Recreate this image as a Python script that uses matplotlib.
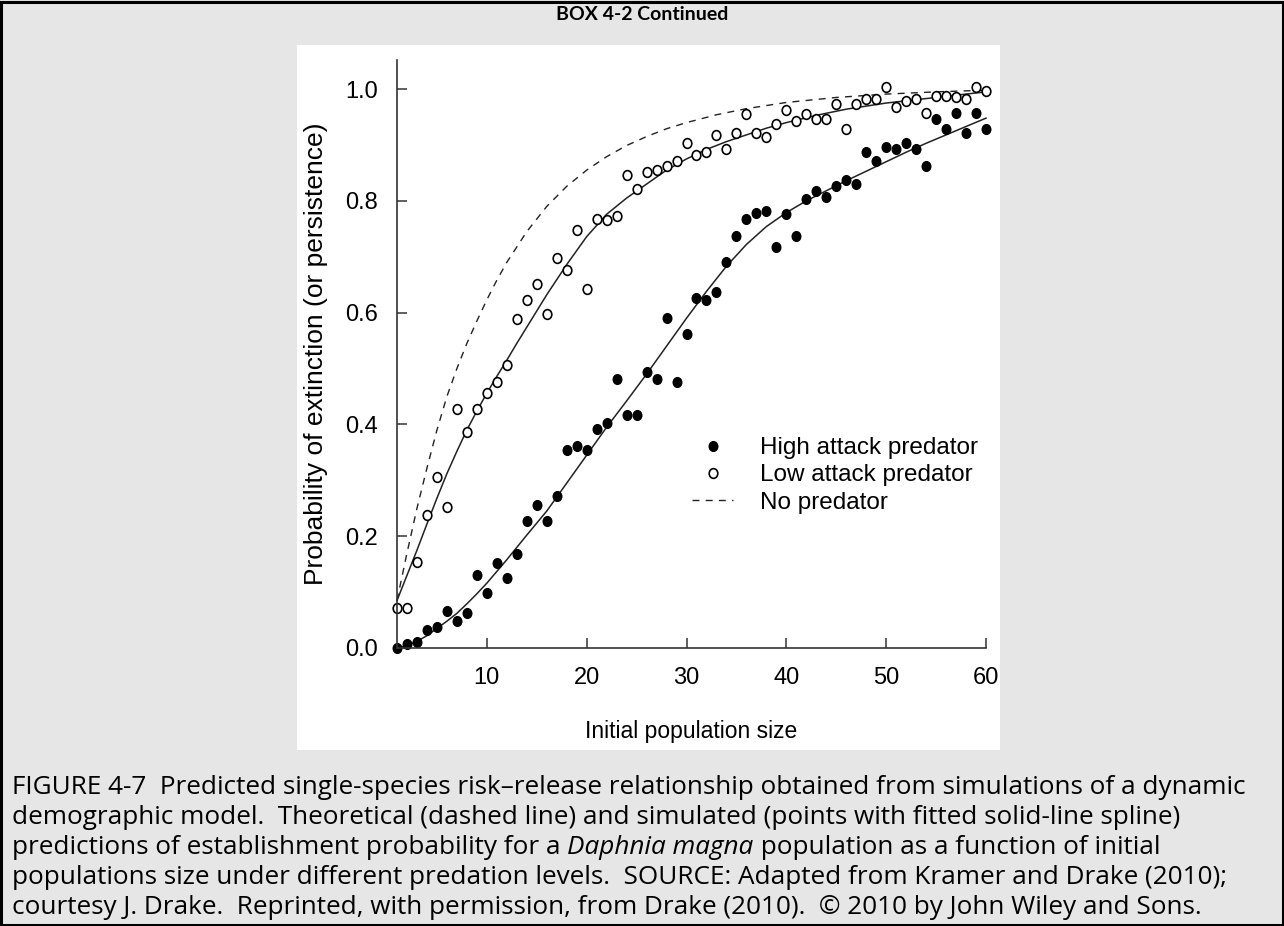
import matplotlib
matplotlib.use("Agg")
import matplotlib.pyplot as plt
from matplotlib.patches import Rectangle
from matplotlib.lines import Line2D
from matplotlib.path import Path
from matplotlib.transforms import Affine2D

W, H = 1284, 926

# simulated points, initial population size 1..60
pop = list(range(1, 61))
high_attack = [0.0, 0.007, 0.011, 0.033, 0.037, 0.067, 0.048, 0.062, 0.131, 0.098,
               0.152, 0.126, 0.168, 0.227, 0.256, 0.227, 0.272, 0.355, 0.362, 0.355,
               0.392, 0.403, 0.482, 0.417, 0.417, 0.493, 0.482, 0.591, 0.476, 0.562,
               0.627, 0.623, 0.637, 0.691, 0.738, 0.767, 0.778, 0.782, 0.717, 0.777,
               0.738, 0.803, 0.818, 0.807, 0.827, 0.838, 0.831, 0.888, 0.872, 0.896,
               0.892, 0.904, 0.892, 0.863, 0.946, 0.928, 0.958, 0.922, 0.958, 0.928]
low_attack = [0.072, 0.072, 0.153, 0.238, 0.306, 0.252, 0.427, 0.386, 0.427, 0.457,
              0.476, 0.507, 0.588, 0.623, 0.652, 0.597, 0.698, 0.676, 0.748, 0.642,
              0.767, 0.766, 0.773, 0.847, 0.821, 0.852, 0.856, 0.862, 0.871, 0.903,
              0.882, 0.888, 0.918, 0.893, 0.922, 0.955, 0.922, 0.914, 0.937, 0.962,
              0.943, 0.955, 0.946, 0.946, 0.973, 0.928, 0.973, 0.982, 0.982, 1.003,
              0.968, 0.979, 0.983, 0.958, 0.987, 0.987, 0.986, 0.982, 1.003, 0.996]

# fitted splines
low_fit_x = [1, 2, 3, 4, 5, 6, 7, 8, 9, 10, 11, 12, 13, 14, 16, 18, 20, 22, 24, 26, 28, 30,
             32, 34, 36, 38, 40, 43, 46, 50, 55, 60]
low_fit = [0.085, 0.13, 0.175, 0.222, 0.268, 0.312, 0.352, 0.39, 0.424, 0.456, 0.486, 0.515,
           0.545, 0.574, 0.632, 0.686, 0.736, 0.776, 0.805, 0.83, 0.855, 0.875, 0.892, 0.906,
           0.918, 0.93, 0.94, 0.953, 0.964, 0.975, 0.985, 0.995]
high_fit_x = [1, 2, 3, 4, 5, 6, 7, 8, 9, 10, 11, 12, 13, 14, 16, 18, 20, 22, 24, 26, 28, 30,
              32, 34, 36, 38, 40, 42, 44, 46, 48, 50, 52, 54, 56, 58, 60]
high_fit = [0.0, 0.004, 0.012, 0.022, 0.035, 0.048, 0.062, 0.079, 0.097, 0.116, 0.137, 0.158,
            0.18, 0.202, 0.245, 0.295, 0.345, 0.395, 0.442, 0.49, 0.54, 0.59, 0.638, 0.683,
            0.722, 0.754, 0.779, 0.8, 0.818, 0.836, 0.853, 0.87, 0.887, 0.903, 0.918, 0.933, 0.948]
# theoretical, no predator
none_x = [1, 2, 3, 4, 5, 6, 7, 8, 9, 10, 11, 12, 14, 16, 18, 20, 22, 24, 26, 28, 30, 33, 36,
          40, 45, 50, 55, 60]
none_p = [0.085, 0.17, 0.25, 0.322, 0.39, 0.45, 0.5, 0.545, 0.585, 0.623, 0.658, 0.69, 0.745,
          0.79, 0.826, 0.855, 0.879, 0.899, 0.915, 0.929, 0.94, 0.954, 0.965, 0.976, 0.985,
          0.991, 0.995, 0.998]

caption = [
    "FIGURE 4-7  Predicted single-species risk\u2013release relationship obtained from simulations of a dynamic",
    "demographic model.  Theoretical (dashed line) and simulated (points with fitted solid-line spline)",
    ["predictions of establishment probability for a ", "Daphnia magna", " population as a function of initial"],
    "populations size under different predation levels.  SOURCE: Adapted from Kramer and Drake (2010);",
    "courtesy J. Drake.  Reprinted, with permission, from Drake (2010).  \u00a9 2010 by John Wiley and Sons.",
]


def fx(x):
    return x / W


def fy(y):
    return 1 - y / H


# the printed plot is slightly stretched vertically, so are its dots
dot = Path.unit_circle().transformed(Affine2D().scale(1.0, 1.13))

fig = plt.figure(figsize=(W / 100, H / 100), dpi=100)
fig.patch.set_facecolor("#e6e6e6")
fig.patches.append(Rectangle((fx(297), fy(750)), (1000 - 297) / W, (750 - 45) / H,
                             transform=fig.transFigure, facecolor="white", edgecolor="none", zorder=-5))
fig.patches.append(Rectangle((fx(1.5), fy(924.5)), (W - 3) / W, (H - 3) / H,
                             transform=fig.transFigure, facecolor="none", edgecolor="black", lw=2.2, zorder=10))

sans = ["Liberation Sans", "DejaVu Sans"]
ax = fig.add_axes([fx(397), fy(648), (986 - 397) / W, (648 - 60) / H])
ax.set_facecolor("white")
ax.set_xlim(1, 60)
ax.set_ylim(0, 1.052)

ax.plot(none_x, none_p, color="#222222", lw=1.0, ls=(0, (5, 4.5)), clip_on=False)
ax.plot(low_fit_x, low_fit, color="#222222", lw=1.1, clip_on=False)
ax.plot(high_fit_x, high_fit, color="#222222", lw=1.1, clip_on=False)
ax.plot(pop, low_attack, ls="none", marker=dot, ms=7, mfc="white", mec="black", mew=1.2, clip_on=False)
ax.plot(pop, high_attack, ls="none", marker=dot, ms=7, mfc="black", mec="black", clip_on=False)

for s in ["top", "right"]:
    ax.spines[s].set_visible(False)
for s in ["left", "bottom"]:
    ax.spines[s].set_linewidth(1.2)
    ax.spines[s].set_color("#333333")

ax.set_xticks([10, 20, 30, 40, 50, 60])
ax.set_yticks([0.0, 0.2, 0.4, 0.6, 0.8, 1.0])
ax.set_yticklabels(["0.0", "0.2", "0.4", "0.6", "0.8", "1.0"])
ax.tick_params(direction="in", length=7, width=1.1, color="#333333", labelsize=17, pad=14)
for lab in ax.get_xticklabels() + ax.get_yticklabels():
    lab.set_family(sans)
ax.set_xlabel("Initial population size", family=sans, fontsize=16.5, labelpad=22)
ax.set_ylabel("Probability of extinction (or persistence)", family=sans, fontsize=19, labelpad=12)

handles = [Line2D([], [], ls="none", marker=dot, ms=7, mfc="black", mec="black"),
           Line2D([], [], ls="none", marker=dot, ms=7, mfc="white", mec="black", mew=1.2),
           Line2D([], [], color="#222222", lw=1.0, ls=(0, (5, 4.5)))]
ax.legend(handles, ["High attack predator", "Low attack predator", "No predator"],
          loc="upper left", bbox_to_anchor=(fx(692), fy(437)), bbox_transform=fig.transFigure,
          frameon=False, prop={"family": sans, "size": 17.5}, handlelength=1.7,
          handletextpad=1.1, labelspacing=0.22, borderpad=0, borderaxespad=0)

renderer = fig.canvas.get_renderer()


def fit_size(text, family, width, **kw):
    # font size that makes text span the given pixel width
    probe = fig.text(0, 0, text, family=family, fontsize=10, **kw)
    w = probe.get_window_extent(renderer).width
    probe.remove()
    return 10 * width / w


head_font = ["Lato", "DejaVu Sans"]
fig.text(fx(642), fy(14), "BOX 4-2 Continued", ha="center", va="center", family=head_font,
         fontweight="bold", fontsize=fit_size("BOX 4-2 Continued", head_font, 172, fontweight="bold"))

# caption, each line as real text; size chosen so the first line fills the box
cap_font = ["Open Sans", "DejaVu Sans"]
cap_size = fit_size(caption[0], cap_font, 1236)
base_y = [794, 824, 854, 884, 914]
for line, yb in zip(caption, base_y):
    parts = line if isinstance(line, list) else [line]
    x = 12
    for i, part in enumerate(parts):
        style = "italic" if (len(parts) > 1 and i == 1) else "normal"
        t = fig.text(fx(x), fy(yb), part, ha="left", va="baseline",
                     family=cap_font, fontsize=cap_size, style=style)
        x += t.get_window_extent(renderer).width

fig.savefig("out.png", dpi=100, facecolor=fig.get_facecolor())
